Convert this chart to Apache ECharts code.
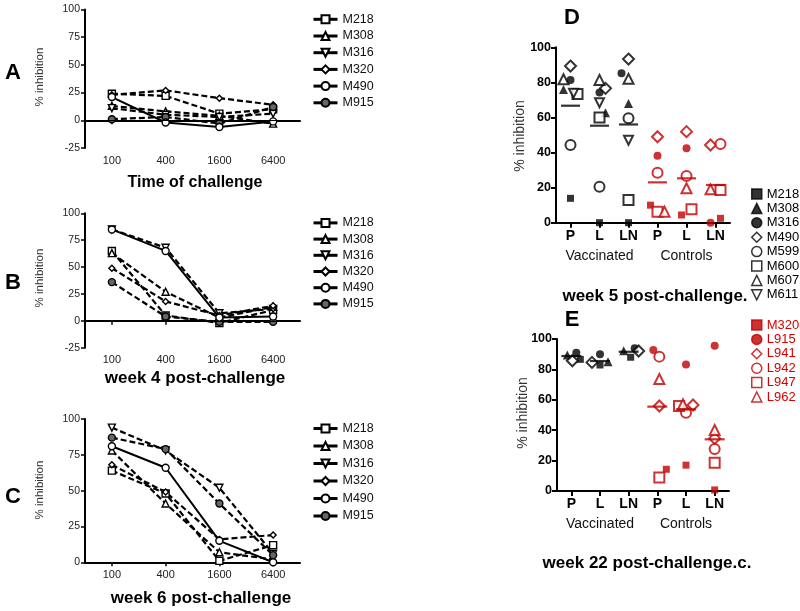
<!DOCTYPE html>
<html><head><meta charset="utf-8">
<script src="https://cdn.jsdelivr.net/npm/echarts@6/dist/echarts.min.js"></script>
<style>html,body{margin:0;padding:0;background:#fff}#c{width:800px;height:611px}</style>
</head><body><div id="c"></div>
<script>
const FONT = '"Liberation Sans", Arial, sans-serif';
const RED = '#c00000';
const RED_TXT = '#d80000';
const TRI_DOWN = 'path://M0,0 L10,0 L5,10 Z';

// ---------- Panels A-C : dilution curves ----------
const doses = ['100', '400', '1600', '6400'];
const abcAnimals = ['M218', 'M308', 'M316', 'M320', 'M490', 'M915'];

const A_M218 = [24, 22, 6, 10];
const A_M308 = [13, 8, 4, -3];
const A_M316 = [11, 5, 3, 6];
const A_M320 = [23, 27, 20, 14];
const A_M490 = [21, -2, -6, -1];
const A_M915 = [1, 3, -3, 12];

const B_M218 = [65, 5, -2, 10];
const B_M308 = [63, 27, 3, 13];
const B_M316 = [85, 68, 7, 11];
const B_M320 = [49, 18, 5, 14];
const B_M490 = [85, 65, 3, 4];
const B_M915 = [36, 4, -1, -1];

const C_M218 = [64, 48, 1, 12];
const C_M308 = [78, 41, 7, 2];
const C_M316 = [94, 78, 52, 6];
const C_M320 = [68, 49, 16, 19];
const C_M490 = [81, 66, 15, 0];
const C_M915 = [87, 79, 41, 5];

const yTicksAB = [-25, 0, 25, 50, 75, 100];
const yTicksC = [0, 25, 50, 75, 100];

// ---------- Panels D-E : tissue groups ----------
const groupCats = ['vP', 'vL', 'vLN', 'cP', 'cL', 'cLN'];
const groupTicks = ['P', 'L', 'LN', 'P', 'L', 'LN'];
const groupNames = ['Vaccinated', 'Controls'];

const vaccD = ['M218', 'M308', 'M316', 'M490', 'M599', 'M600', 'M607', 'M611'];
const D_M218 = [13.9, 0, 0];
const D_M308 = [76, 62.7, 68];
const D_M316 = [81.4, 74.3, 85.2];
const D_M490 = [89.3, 76.6, 93.3];
const D_M599 = [44.3, 20.5, 59.5];
const D_M600 = [73.4, 60, 13];
const D_M607 = [81.8, 81.4, 82];
const D_M611 = [73.8, 68.4, 47];

const ctrl = ['M320', 'L915', 'L941', 'L942', 'L947', 'L962'];
const Dc_M320 = [10, 4.4, 2.5];
const Dc_L915 = [38.2, 42.4, 0];
const Dc_L941 = [49, 51.9, 44.3];
const Dc_L942 = [28.5, 26.6, 44.9];
const Dc_L947 = [6.3, 7.6, 18.6];
const Dc_L962 = [6.3, 19.6, 19];
const meanD = [66.7, 55.3, 56, 23, 25.3, 21.5];

const vaccE = ['M218', 'M308', 'M316', 'M490'];
const E_M218 = [86.6, 82.9, 88];
const E_M308 = [89.5, 85, 92.3];
const E_M316 = [91, 89.9, 93.9];
const E_M490 = [85.7, 84.6, 92.1];
const Ec_M320 = [14.3, 17, 0.7];
const Ec_L915 = [92.8, 83.3, 95.6];
const Ec_L941 = [55.9, 56.6, 34.6];
const Ec_L942 = [88.4, 51.5, 27.6];
const Ec_L947 = [8.8, 55.9, 18.6];
const Ec_L962 = [73.7, 57, 40.1];
const meanE = [88.8, 85.5, 91.6, 55.5, 53.7, 34];

// ---------- styles (kept apart from the data) ----------
const abcData = {
  A: [A_M218, A_M308, A_M316, A_M320, A_M490, A_M915],
  B: [B_M218, B_M308, B_M316, B_M320, B_M490, B_M915],
  C: [C_M218, C_M308, C_M316, C_M320, C_M490, C_M915]
};
const abcSym = {M218: 'rect', M308: 'triangle', M316: TRI_DOWN, M320: 'diamond', M490: 'circle', M915: 'circle'};
const abcFill = {M915: '#666'};
const solidAnimal = 'M490';

const symDE = {
  M218: ['rect', 7, true], M308: ['triangle', 9, true], M316: ['circle', 8, true],
  M490: ['diamond', 11, false], M599: ['circle', 10, false], M600: ['rect', 10, false],
  M607: ['triangle', 10, false], M611: [TRI_DOWN, 9, false],
  M320: ['rect', 7, true], L915: ['circle', 8, true], L941: ['diamond', 11, false],
  L942: ['circle', 10, false], L947: ['rect', 10, false], L962: ['triangle', 10, false]
};
const jitD = {
  M218: [0, 0, 0], M308: [-7, 6, 0], M316: [0, 0, -7], M490: [0, 6, 0], M599: [0, 0, 0],
  M600: [7, 0, 0], M607: [-7, 0, 0], M611: [3, 0, 0]
};
const jitDc = {M320: [-7, -5, 5], L915: [0, 0, -5], L941: [0, 0, -5], L942: [0, 0, 5], L947: [0, 5, 5], L962: [7, 0, -5]};
const jitE = {M218: [9, 0, 2], M308: [-4, 8, -5], M316: [5, 0, 6], M490: [1, -8, 10]};
const jitEc = {M320: [9, 0, 0], L915: [-4, 0, 0], L941: [2, 7, 0], L942: [2, 0, 0], L947: [2, -7, 0], L962: [2, -3, 0]};

const Dv = {M218: D_M218, M308: D_M308, M316: D_M316, M490: D_M490, M599: D_M599, M600: D_M600, M607: D_M607, M611: D_M611};
const Dc = {M320: Dc_M320, L915: Dc_L915, L941: Dc_L941, L942: Dc_L942, L947: Dc_L947, L962: Dc_L962};
const Ev = {M218: E_M218, M308: E_M308, M316: E_M316, M490: E_M490};
const Ec = {M320: Ec_M320, L915: Ec_L915, L941: Ec_L941, L942: Ec_L942, L947: Ec_L947, L962: Ec_L962};

// ---------- layout ----------
const gridsABC = [
  {left: 85, top: 9.5, width: 215, height: 138.5},
  {left: 85, top: 213.3, width: 215, height: 134.4},
  {left: 85, top: 419, width: 215, height: 143.3}
];
const gridD = {left: 556, top: 47.3, width: 174, height: 175.4};
const gridE = {left: 557, top: 339, width: 172, height: 152};

const grid = [...gridsABC, gridD, gridE];
const xAxis = [];
const yAxis = [];
const series = [];
const legend = [];

const axLine = {show: true, lineStyle: {color: '#000', width: 2}};

['A', 'B', 'C'].forEach((p, gi) => {
  const ticks = gi < 2 ? yTicksAB : yTicksC;
  xAxis.push({
    type: 'category', gridIndex: gi, data: doses, boundaryGap: true,
    axisLine: axLine,
    axisTick: {show: true, alignWithLabel: true, length: 4, lineStyle: {width: 1.5, color: '#000'}},
    axisLabel: {fontFamily: FONT, fontSize: 11, color: '#222', margin: 7, interval: 0},
    splitLine: {show: false}
  });
  yAxis.push({
    type: 'value', gridIndex: gi, min: ticks[0], max: ticks[ticks.length - 1], interval: 25,
    axisLine: axLine,
    axisTick: {show: true, length: 4, lineStyle: {width: 1.5, color: '#000'}},
    axisLabel: {fontFamily: FONT, fontSize: 10.5, color: '#222', margin: 5},
    splitLine: {show: false}
  });
  abcAnimals.forEach((a, k) => {
    const solid = a === solidAnimal;
    const s = {
      type: 'line', name: p + '|' + a, xAxisIndex: gi, yAxisIndex: gi,
      data: abcData[p][k], symbol: abcSym[a], symbolSize: a === 'M320' ? 6 : 7,
      showSymbol: true, animation: false, z: solid ? 4 : 3,
      lineStyle: {color: '#000', width: solid ? 2 : 2.2, type: solid ? 'solid' : [6, 3]},
      itemStyle: {color: abcFill[a] || '#fff', borderColor: '#000', borderWidth: 1.4}
    };
    if (k === 0 && gi < 2) {
      s.markLine = {
        silent: true, symbol: 'none', animation: false, label: {show: false},
        lineStyle: {color: '#000', width: 1, type: 'solid'},
        data: [{yAxis: 0}]
      };
    }
    series.push(s);
  });
  const lTop = [12.8, 216.4, 422][gi];
  const lGap = [3.7, 3.2, 4.5][gi];
  legend.push({
    orient: 'vertical', left: 312, top: lTop, padding: 0,
    itemWidth: 24, itemHeight: 10, itemGap: lGap,
    data: abcAnimals.map(a => p + '|' + a),
    formatter: n => n.split('|')[1],
    textStyle: {fontFamily: FONT, fontSize: 12.5, color: '#111'},
    lineStyle: {color: '#000', width: 3, type: 'solid'},
    selectedMode: false
  });
});

function deAxes(gi, labelGap) {
  const xi = xAxis.length;
  xAxis.push({
    type: 'category', gridIndex: gi, data: groupCats, boundaryGap: true,
    axisLine: axLine,
    axisTick: {show: true, alignWithLabel: true, length: 5, lineStyle: {width: 2, color: '#000'}},
    axisLabel: {fontFamily: FONT, fontSize: 14, fontWeight: 'bold', color: '#000', margin: labelGap,
      interval: 0, formatter: (v, i) => groupTicks[i]},
    splitLine: {show: false}
  });
  xAxis.push({
    type: 'category', gridIndex: gi, data: groupNames, position: 'bottom', offset: 20 + labelGap - 6,
    axisLine: {show: false}, axisTick: {show: false},
    axisLabel: {fontFamily: FONT, fontSize: 14, color: '#111', margin: 6, interval: 0,
      showMinLabel: true, showMaxLabel: true},
    splitLine: {show: false}
  });
  yAxis.push({
    type: 'value', gridIndex: gi, min: 0, max: 100, interval: 20,
    axisLine: axLine,
    axisTick: {show: true, length: 5, lineStyle: {width: 2, color: '#000'}},
    axisLabel: {fontFamily: FONT, fontSize: 12.5, fontWeight: 'bold', color: '#000', margin: 5},
    splitLine: {show: false}
  });
  return xi;
}

function scatterSeries(prefix, names, vals, jit, base, color, xi, yi) {
  names.forEach(a => {
    const [sym, size, filled] = symDE[a];
    series.push({
      type: 'scatter', name: prefix + '|' + a, xAxisIndex: xi, yAxisIndex: yi,
      symbol: sym, symbolSize: size, animation: false, z: 4,
      itemStyle: {color: filled ? color : '#fff', borderColor: color, borderWidth: filled ? 0 : 2},
      data: vals[a].map((v, k) => ({value: [base + k, v], symbolOffset: [jit[a][k], 0]}))
    });
  });
}

function meanSeries(means, xi, yi, w) {
  series.push({
    type: 'scatter', name: 'mean' + xi, xAxisIndex: xi, yAxisIndex: yi,
    symbol: 'rect', symbolSize: [w, 2.2], animation: false, z: 5,
    data: means.map((v, k) => ({value: [k, v], itemStyle: {color: k < 3 ? '#000' : RED}}))
  });
}

const xD = deAxes(3, 6);
scatterSeries('D', vaccD, Dv, jitD, 0, '#000', xD, 3);
scatterSeries('Dc', ctrl, Dc, jitDc, 3, RED, xD, 3);
meanSeries(meanD, xD, 3, 19);

const xE = deAxes(4, 6);
scatterSeries('E', vaccE, Ev, jitE, 0, '#000', xE, 4);
scatterSeries('Ec', ctrl, Ec, jitEc, 3, RED, xE, 4);
meanSeries(meanE, xE, 4, 20);

legend.push({
  orient: 'vertical', left: 751, top: 187.5, padding: 0, itemWidth: 10, itemHeight: 10, itemGap: 1.4,
  data: vaccD.map(a => 'D|' + a), formatter: n => n.split('|')[1],
  textStyle: {fontFamily: FONT, fontSize: 13, color: '#000'}, selectedMode: false,
  itemStyle: {borderWidth: 1.5}
});
legend.push({
  orient: 'vertical', left: 751, top: 318.5, padding: 0, itemWidth: 10, itemHeight: 10, itemGap: 1.4,
  data: ctrl.map(a => 'Ec|' + a), formatter: n => n.split('|')[1],
  textStyle: {fontFamily: FONT, fontSize: 13, color: RED_TXT}, selectedMode: false,
  itemStyle: {borderWidth: 1.5}
});

// ---------- texts ----------
function txt(text, x, y, size) {
  return {
    type: 'text', x: x, y: y, silent: true,
    style: {text: text, fontFamily: FONT, fontSize: size, fill: '#000',
      align: 'center', verticalAlign: 'middle', fontWeight: 'normal'}
  };
}
function bold(text, x, y, size) {
  const t = txt(text, x, y, size);
  t.style.fontWeight = 'bold';
  return t;
}
function vert(text, x, y, size, color) {
  const t = txt(text, x, y, size);
  t.rotation = Math.PI / 2;
  t.style.fill = color;
  return t;
}

const graphic = [
  bold('A', 13, 73, 22), bold('B', 13, 283, 22), bold('C', 13, 497, 22),
  bold('D', 572, 18, 22), bold('E', 572, 320, 22),
  bold('Time of challenge', 195, 183, 16),
  bold('week 4 post-challenge', 195, 378, 17),
  bold('week 6 post-challenge', 201, 598, 17),
  bold('week 5 post-challenge.', 655, 296, 17),
  bold('week 22 post-challenge.c.', 647, 563, 17),
  vert('% inhibition', 40, 77, 11.5, '#333'),
  vert('% inhibition', 40, 278, 11.5, '#333'),
  vert('% inhibition', 40, 490, 11.5, '#333'),
  vert('% inhibition', 520, 136, 14, '#333'),
  vert('% inhibition', 523, 413, 14, '#333')
];

const chart = echarts.init(document.getElementById('c'), null, {renderer: 'canvas'});
chart.setOption({
  animation: false,
  backgroundColor: '#fff',
  grid: grid, xAxis: xAxis, yAxis: yAxis, series: series, legend: legend,
  graphic: graphic
});
</script>
</body></html>
